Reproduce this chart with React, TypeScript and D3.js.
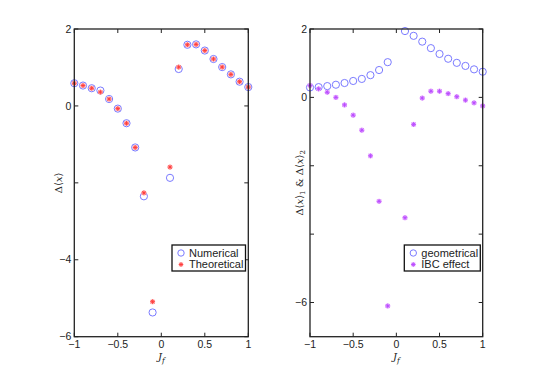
import * as d3 from "d3";
import React from "react";

// J_f values (no point at 0)
const jf = [-1, -0.9, -0.8, -0.7, -0.6, -0.5, -0.4, -0.3, -0.2, -0.1, 0.1, 0.2, 0.3, 0.4, 0.5, 0.6, 0.7, 0.8, 0.9, 1];

// left panel
const numerical = [0.59, 0.53, 0.46, 0.40, 0.18, -0.07, -0.45, -1.08, -2.35, -5.37, -1.87, 0.96, 1.59, 1.60, 1.44, 1.22, 1.01, 0.82, 0.63, 0.49];
const theoretical = [0.59, 0.53, 0.46, 0.36, 0.18, -0.07, -0.45, -1.08, -2.26, -5.09, -1.59, 1.01, 1.59, 1.60, 1.44, 1.22, 1.01, 0.82, 0.63, 0.49];

// right panel
const geometrical = [0.29, 0.30, 0.33, 0.37, 0.42, 0.48, 0.54, 0.65, 0.80, 1.03, 1.94, 1.80, 1.63, 1.44, 1.27, 1.13, 1.01, 0.92, 0.82, 0.75];
const ibcEffect = [0.35, 0.25, 0.15, 0.0, -0.22, -0.52, -0.96, -1.71, -3.04, -6.10, -3.52, -0.79, -0.02, 0.18, 0.18, 0.11, 0.02, -0.08, -0.16, -0.25];

const xTicks = [-1, -0.5, 0, 0.5, 1];
const leftYTicks = [-6, -4, -2, 0, 2];
const leftYLabels = [-6, -4, 0, 2];
const rightYTicks = [-6, -4, -2, 0, 2];
const rightYLabels = [-6, 0, 2];

const FONT = "Liberation Sans, Arial, sans-serif";
const fmt = (d: number) => (d < 0 ? "\u2212" + Math.abs(d) : String(d));

function star(x: number, y: number, r: number) {
  const d = r * 0.72;
  return `M${x - r},${y}L${x + r},${y}M${x},${y - r}L${x},${y + r}M${x - d},${y - d}L${x + d},${y + d}M${x - d},${y + d}L${x + d},${y - d}`;
}

function Panel(props: any) {
  const { left, width, top, bottom, yDomain, yTicks, yLabels, circles, stars, starColor, starGlow, legend, legendBox, yLabel, yLabelX } = props;
  const x = d3.scaleLinear().domain([-1, 1]).range([left, left + width]);
  const y = d3.scaleLinear().domain(yDomain).range([bottom, top]);
  const tl = 4;
  return (
    <g fontFamily={FONT} fontSize={11} fill="#222">
      {/* ticks */}
      {xTicks.map((t, i) => (
        <g key={"x" + i}>
          <line x1={x(t)} x2={x(t)} y1={bottom} y2={bottom - tl} stroke="#222" />
          <line x1={x(t)} x2={x(t)} y1={top} y2={top + tl} stroke="#222" />
          <text x={x(t)} y={bottom + 11} textAnchor="middle" fontSize={10.5}>{fmt(t)}</text>
        </g>
      ))}
      {yTicks.map((t: number, i: number) => (
        <g key={"y" + i}>
          <line x1={left} x2={left + tl} y1={y(t)} y2={y(t)} stroke="#222" />
          <line x1={left + width} x2={left + width - tl} y1={y(t)} y2={y(t)} stroke="#222" />
        </g>
      ))}
      {yLabels.map((t: number, i: number) => (
        <text key={"yl" + i} x={left - 3} y={y(t)} dy="0.35em" textAnchor="end" fontSize={10.5}>{fmt(t)}</text>
      ))}
      {/* markers */}
      {jf.map((j, i) => (
        <circle key={"c" + i} cx={x(j)} cy={y(circles[i])} r={3.6} fill="none" stroke="#7a7aff" strokeWidth={1} />
      ))}
      {jf.map((j, i) => (
        <g key={"s" + i}>
          <circle cx={x(j)} cy={y(stars[i])} r={2.6} fill={starGlow} />
          <path d={star(x(j), y(stars[i]), 2.4)} stroke={starColor} strokeWidth={0.9} fill="none" />
        </g>
      ))}
      <rect x={left} y={top} width={width} height={bottom - top} fill="none" stroke="#222" strokeWidth={1.3} />
      {/* axis labels */}
      <text x={x(0)} y={bottom + 23.5} textAnchor="middle" fontFamily="DejaVu Serif, serif" fontStyle="italic" fontSize={10}>
        J<tspan fontSize={7.5} dy={2.5}>f</tspan>
      </text>
      <text transform={`translate(${yLabelX},${y(yLabel.at)}) rotate(-90)`} textAnchor="middle" fontFamily="DejaVu Serif, serif" fontSize={10}>
        {yLabel.content}
      </text>
      {/* legend */}
      <g>
        <rect x={legendBox[0]} y={legendBox[1]} width={legendBox[2]} height={legendBox[3]} fill="#fff" stroke="#111" strokeWidth={1.3} />
        <circle cx={legendBox[0] + 9} cy={legendBox[1] + 8} r={3.2} fill="none" stroke="#7a7aff" />
        <circle cx={legendBox[0] + 9} cy={legendBox[1] + 19.5} r={2.4} fill={starGlow} />
        <path d={star(legendBox[0] + 9, legendBox[1] + 19.5, 2.2)} stroke={starColor} strokeWidth={0.9} fill="none" />
        <text x={legendBox[0] + 17} y={legendBox[1] + 8} dy="0.35em">{legend[0]}</text>
        <text x={legendBox[0] + 17} y={legendBox[1] + 19.5} dy="0.35em">{legend[1]}</text>
      </g>
    </g>
  );
}

export default function App() {
  const it = (s: string) => <tspan fontStyle="italic">{s}</tspan>;
  const leftLabel = (
    <>
      {"\u0394\u27E8"}{it("x")}{"\u27E9"}
    </>
  );
  const rightLabel = (
    <>
      {"\u0394\u27E8"}{it("x")}{"\u27E9"}<tspan fontSize={7} dy={2}>1</tspan>
      <tspan dy={-2}>{" & \u0394\u27E8"}</tspan>{it("x")}{"\u27E9"}<tspan fontSize={7} dy={2}>2</tspan>
    </>
  );
  return (
    <svg width={534} height={379} style={{ position: "absolute", left: 0, top: 0, background: "#fff" }}>
      <Panel
        left={74.3}
        width={174}
        top={29}
        bottom={336.7}
        yDomain={[-6, 2]}
        yTicks={leftYTicks}
        yLabels={leftYLabels}
        circles={numerical}
        stars={theoretical}
        starColor="#ff3a3a"
        starGlow="#ffc0c0"
        legend={["Numerical", "Theoretical"]}
        legendBox={[172, 245, 73.5, 26]}
        yLabel={{ at: -2, content: leftLabel }}
        yLabelX={62}
      />
      <Panel
        left={310}
        width={172.7}
        top={29}
        bottom={336.7}
        yDomain={[-7, 2]}
        yTicks={rightYTicks}
        yLabels={rightYLabels}
        circles={geometrical}
        stars={ibcEffect}
        starColor="#b84aff"
        starGlow="#eebbff"
        legend={["geometrical", "IBC effect"]}
        legendBox={[404.3, 245, 76, 26]}
        yLabel={{ at: -2.5, content: rightLabel }}
        yLabelX={303}
      />
    </svg>
  );
}
